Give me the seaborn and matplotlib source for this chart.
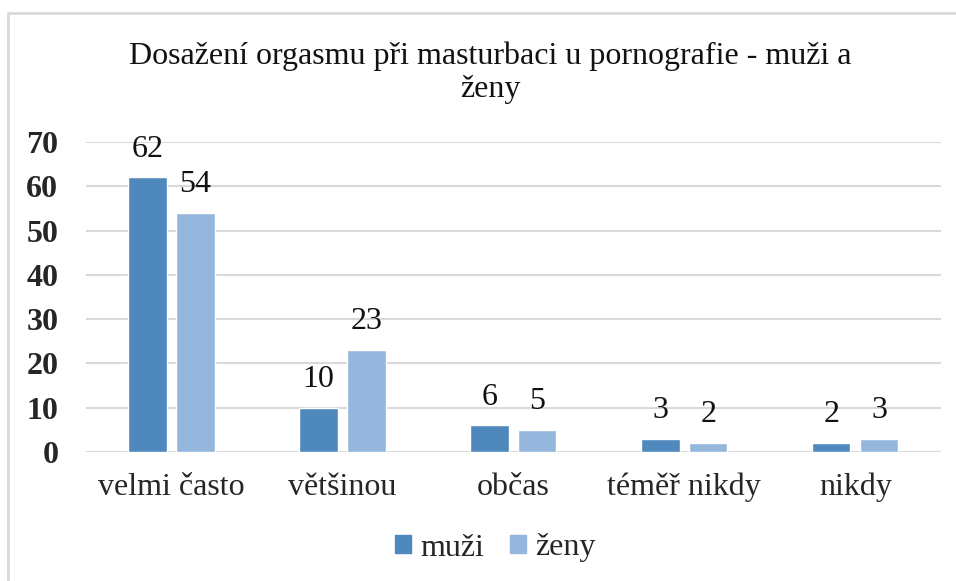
import matplotlib
matplotlib.use("Agg")
import matplotlib.pyplot as plt
import seaborn as sns
import pandas as pd
from matplotlib.patches import Rectangle
from matplotlib.lines import Line2D

categories = ["velmi často", "většinou", "občas", "téměř nikdy", "nikdy"]
muzi = [62, 10, 6, 3, 2]
zeny = [54, 23, 5, 2, 3]
series = ["muži", "ženy"]
yticks = [0, 10, 20, 30, 40, 50, 60, 70]
title = "Dosažení orgasmu při masturbaci u pornografie - muži a\nženy"

df = pd.DataFrame({
    "kategorie": categories * 2,
    "hodnota": muzi + zeny,
    "pohlaví": [series[0]] * len(categories) + [series[1]] * len(categories),
})

sns.set_theme(style="white")
plt.rcParams["font.family"] = ["Liberation Serif", "DejaVu Serif"]

fig = plt.figure(figsize=(9.56, 5.81), dpi=100)
ax = fig.add_axes([0.09, 0.222, 0.894, 0.5336])

palette = {"muži": "#4f88bd", "ženy": "#95b7de"}
sns.barplot(data=df, x="kategorie", y="hodnota", hue="pohlaví", order=categories,
            hue_order=series, palette=palette, width=0.56, gap=0.2,
            saturation=1, ax=ax, legend=False, zorder=3)

for c in ax.containers:
    ax.bar_label(c, fmt="%g", padding=10, fontsize=23, color="#111111")

ax.set_ylim(0, 70)
ax.set_yticks(yticks)
ax.set_xlim(-0.5, 4.5)
ax.grid(axis="y", color="#d9d9d9", linewidth=1.5, zorder=0)
ax.set_axisbelow(True)
for s in ax.spines.values():
    s.set_visible(False)
ax.tick_params(axis="y", length=0, pad=20, labelsize=23)
ax.tick_params(axis="x", length=0, pad=15, labelsize=23)
for t in ax.get_yticklabels():
    t.set_fontweight("bold")
ax.set_xlabel("")
ax.set_ylabel("")

fig.text(490 / 956, 1 - 73 / 581, title, ha="center", va="center", fontsize=23,
         linespacing=1.18, color="#111111")

handles = [Rectangle((0, 0), 1, 1, color=palette[s]) for s in series]
fig.legend(handles, series, loc="center", bbox_to_anchor=(495 / 956, 1 - 548 / 581),
           ncol=2, frameon=False, fontsize=23, handlelength=0.5, handleheight=0.5,
           handletextpad=0.3, columnspacing=0.8)

fig.add_artist(Line2D([8 / 956, 1.0], [1 - 13 / 581, 1 - 13 / 581], transform=fig.transFigure,
                      color="#d9d9d9", linewidth=2))
fig.add_artist(Line2D([8 / 956, 8 / 956], [0.0, 1 - 13 / 581], transform=fig.transFigure,
                      color="#d9d9d9", linewidth=2))

fig.savefig("out.png", dpi=100)
